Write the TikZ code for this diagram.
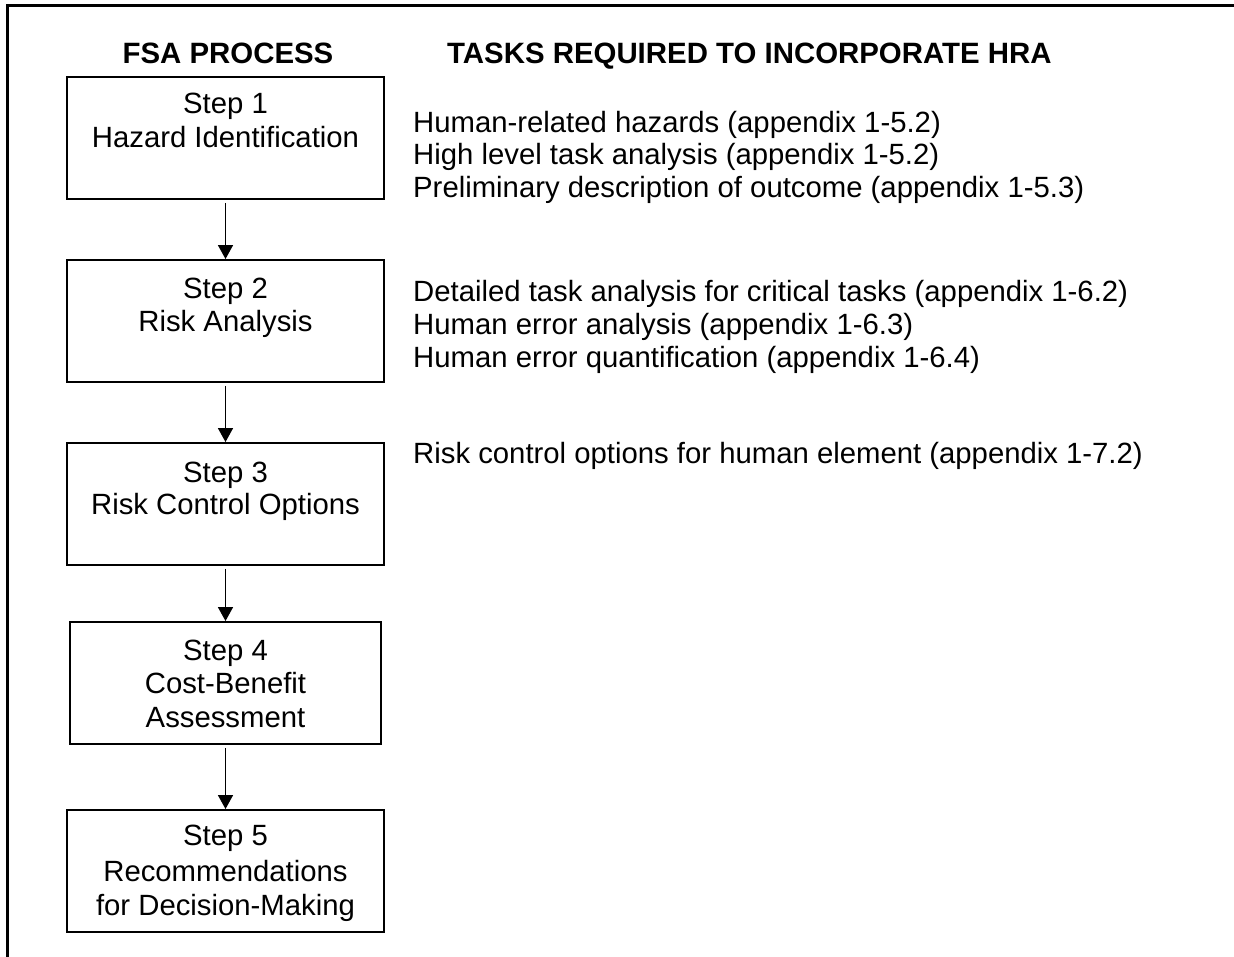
\documentclass[tikz,border=0pt]{standalone}
\usepackage{fontspec}
\setmainfont{Liberation Sans}
\usetikzlibrary{arrows.meta,fit}
\begin{document}
\begin{tikzpicture}[x=1pt,y=-1pt,
  stepbox/.style={draw=black,line width=1.9pt,inner sep=0pt},
  txt/.style={inner sep=0pt,font=\fontsize{29.3}{33}\selectfont},
  ctr/.style={txt,anchor=base},
  lft/.style={txt,anchor=base west},
  hdr/.style={inner sep=0pt,anchor=base,font=\fontsize{29.4}{33}\selectfont\bfseries},
  flow/.style={line width=1.5pt,shorten <=3pt,-{Triangle[length=14pt,width=15pt]}}]
\useasboundingbox (0,0) rectangle (1234,957);
% frame
\coordinate (fr1) at (1234,5.5);
\coordinate (fr2) at (7.5,5.5);
\coordinate (fr3) at (7.5,957);
\draw[line width=2.2pt] (fr1) -- (fr2) -- (fr3);
% headers
\node[hdr] (h1) at (228,64) {FSA PROCESS};
\node[hdr,anchor=base west] (h2) at (447,64) {TASKS REQUIRED TO INCORPORATE HRA};
% box corners
\path (67,77) coordinate (b1nw) (384,199) coordinate (b1se)
      (67,260) coordinate (b2nw) (384,382) coordinate (b2se)
      (67,443) coordinate (b3nw) (384,565) coordinate (b3se)
      (70,622) coordinate (b4nw) (381,744) coordinate (b4se)
      (67,810) coordinate (b5nw) (384,932) coordinate (b5se);
% boxes
\node[stepbox,fit=(b1nw)(b1se)] (b1) {};
\node[stepbox,fit=(b2nw)(b2se)] (b2) {};
\node[stepbox,fit=(b3nw)(b3se)] (b3) {};
\node[stepbox,fit=(b4nw)(b4se)] (b4) {};
\node[stepbox,fit=(b5nw)(b5se)] (b5) {};
% box texts
\node[ctr] (s1a) at (225.5,114) {Step 1};
\node[ctr] (s1b) at (225.5,148) {Hazard Identification};
\node[ctr] (s2a) at (225.5,299) {Step 2};
\node[ctr] (s2b) at (225.5,332) {Risk Analysis};
\node[ctr] (s3a) at (225.5,482) {Step 3};
\node[ctr] (s3b) at (225.5,514) {Risk Control Options};
\node[ctr] (s4a) at (225.5,660) {Step 4};
\node[ctr] (s4b) at (225.5,693) {Cost-Benefit};
\node[ctr] (s4c) at (225.5,727) {Assessment};
\node[ctr] (s5a) at (225.5,845) {Step 5};
\node[ctr] (s5b) at (225.5,881) {Recommendations};
\node[ctr] (s5c) at (225.5,915) {for Decision-Making};
% arrows
\draw[flow] (b1.south) -- (b2.north);
\draw[flow] (b2.south) -- (b3.north);
\draw[flow] (b3.south) -- (b4.north);
\draw[flow] (b4.south) -- (b5.north);
% task texts
\node[lft] (r1a) at (413,133) {Human-related hazards (appendix 1-5.2)};
\node[lft] (r1b) at (413,165) {High level task analysis (appendix 1-5.2)};
\node[lft] (r1c) at (413,198) {Preliminary description of outcome (appendix 1-5.3)};
\node[lft] (r2a) at (413,302) {Detailed task analysis for critical tasks (appendix 1-6.2)};
\node[lft] (r2b) at (413,335) {Human error analysis (appendix 1-6.3)};
\node[lft] (r2c) at (413,367) {Human error quantification (appendix 1-6.4)};
\node[lft] (r3a) at (413,463) {Risk control options for human element (appendix 1-7.2)};
\end{tikzpicture}
\end{document}
